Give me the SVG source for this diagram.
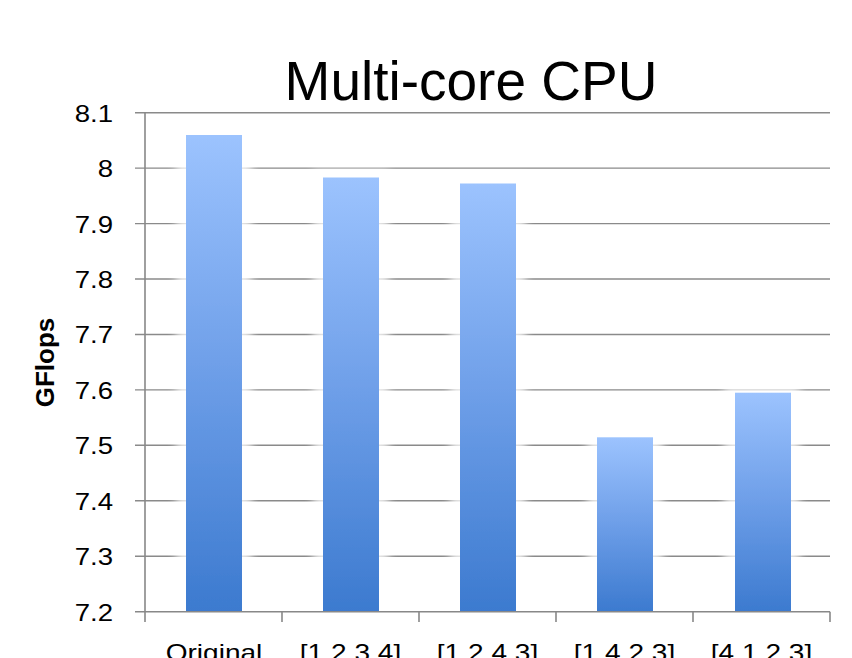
<svg xmlns="http://www.w3.org/2000/svg" width="852" height="658" viewBox="0 0 852 658">
  <style>
    .grid { stroke: #8a8a8a; stroke-width: 1.4; fill: none; }
    .axis { stroke: #888888; stroke-width: 1.6; fill: none; }
    .tick { font-family: "Liberation Sans", Arial, sans-serif; font-size: 23px; fill: #000; }
    .title { font-family: "Liberation Sans", Arial, sans-serif; font-size: 55px; fill: #000; }
    .ylab { font-family: "Liberation Sans", Arial, sans-serif; font-size: 26px; font-weight: bold; fill: #000; }
    .halo { fill: #ffffff; opacity: 0.75; filter: url(#soft); }
    .bar { fill: url(#barFill); filter: url(#edge); }
  </style>
  <defs>
    <linearGradient id="barFill" x1="0" y1="0" x2="0" y2="1">
      <stop offset="0" stop-color="#9CC3FE"/>
      <stop offset="0.5" stop-color="#6D9EE8"/>
      <stop offset="1" stop-color="#3C7ACF"/>
    </linearGradient>
    <filter id="soft" x="-50%" y="-50%" width="200%" height="200%">
      <feGaussianBlur stdDeviation="4"/>
    </filter>
    <filter id="edge" x="-10%" y="-10%" width="120%" height="120%">
      <feGaussianBlur stdDeviation="0.6"/>
    </filter>
  </defs>

  <rect width="852" height="658" fill="#ffffff"/>

  <!-- title -->
  <text class="title" x="471" y="100" text-anchor="middle">Multi-core CPU</text>

  <!-- horizontal gridlines with their left tick stubs -->
  <g id="gridlines">
    <line class="grid" x1="135" y1="112.7" x2="830" y2="112.7"/>
    <line class="grid" x1="135" y1="168.1" x2="830" y2="168.1"/>
    <line class="grid" x1="135" y1="223.6" x2="830" y2="223.6"/>
    <line class="grid" x1="135" y1="279.0" x2="830" y2="279.0"/>
    <line class="grid" x1="135" y1="334.5" x2="830" y2="334.5"/>
    <line class="grid" x1="135" y1="389.9" x2="830" y2="389.9"/>
    <line class="grid" x1="135" y1="445.3" x2="830" y2="445.3"/>
    <line class="grid" x1="135" y1="500.8" x2="830" y2="500.8"/>
    <line class="grid" x1="135" y1="556.2" x2="830" y2="556.2"/>
  </g>

  <!-- light glow behind each bar -->
  <g id="halos">
    <rect class="halo" x="176" y="127" width="76" height="485"/>
    <rect class="halo" x="313" y="170" width="76" height="442"/>
    <rect class="halo" x="450" y="176" width="76" height="436"/>
    <rect class="halo" x="587" y="430" width="76" height="182"/>
    <rect class="halo" x="724" y="385" width="76" height="227"/>
  </g>

  <!-- bars -->
  <g id="bar-original"><rect class="bar" x="186" y="135" width="56" height="476.7"/></g>
  <g id="bar-1234"><rect class="bar" x="323" y="177.5" width="56" height="434.2"/></g>
  <g id="bar-1243"><rect class="bar" x="460" y="183.5" width="56" height="428.2"/></g>
  <g id="bar-1423"><rect class="bar" x="597" y="437.3" width="56" height="174.4"/></g>
  <g id="bar-4123"><rect class="bar" x="735" y="392.7" width="56" height="219"/></g>

  <!-- axes -->
  <g id="axes">
    <line class="axis" x1="145" y1="112" x2="145" y2="612"/>
    <line class="axis" x1="135" y1="611.7" x2="830" y2="611.7"/>
    <line class="axis" x1="145" y1="611.7" x2="145" y2="622"/>
    <line class="axis" x1="282" y1="611.7" x2="282" y2="622"/>
    <line class="axis" x1="419" y1="611.7" x2="419" y2="622"/>
    <line class="axis" x1="556" y1="611.7" x2="556" y2="622"/>
    <line class="axis" x1="693" y1="611.7" x2="693" y2="622"/>
    <line class="axis" x1="830" y1="611.7" x2="830" y2="622"/>
  </g>

  <!-- value axis labels -->
  <g id="y-labels" transform="translate(113 0) scale(1.2 1)">
    <text class="tick" x="0" y="121.7" text-anchor="end">8.1</text>
    <text class="tick" x="0" y="177.1" text-anchor="end">8</text>
    <text class="tick" x="0" y="232.6" text-anchor="end">7.9</text>
    <text class="tick" x="0" y="288.0" text-anchor="end">7.8</text>
    <text class="tick" x="0" y="343.5" text-anchor="end">7.7</text>
    <text class="tick" x="0" y="398.9" text-anchor="end">7.6</text>
    <text class="tick" x="0" y="454.3" text-anchor="end">7.5</text>
    <text class="tick" x="0" y="509.8" text-anchor="end">7.4</text>
    <text class="tick" x="0" y="565.2" text-anchor="end">7.3</text>
    <text class="tick" x="0" y="620.7" text-anchor="end">7.2</text>
  </g>

  <!-- category labels -->
  <g id="x-labels">
    <text class="tick" transform="translate(214 661) scale(1.22 1)" text-anchor="middle">Original</text>
    <text class="tick" transform="translate(350.5 661) scale(1.22 1)" text-anchor="middle">[1,2,3,4]</text>
    <text class="tick" transform="translate(487.5 661) scale(1.22 1)" text-anchor="middle">[1,2,4,3]</text>
    <text class="tick" transform="translate(624.5 661) scale(1.22 1)" text-anchor="middle">[1,4,2,3]</text>
    <text class="tick" transform="translate(761.5 661) scale(1.22 1)" text-anchor="middle">[4,1,2,3]</text>
  </g>

  <!-- value axis title -->
  <text class="ylab" transform="translate(54 362.5) rotate(-90)" text-anchor="middle">GFlops</text>
</svg>
